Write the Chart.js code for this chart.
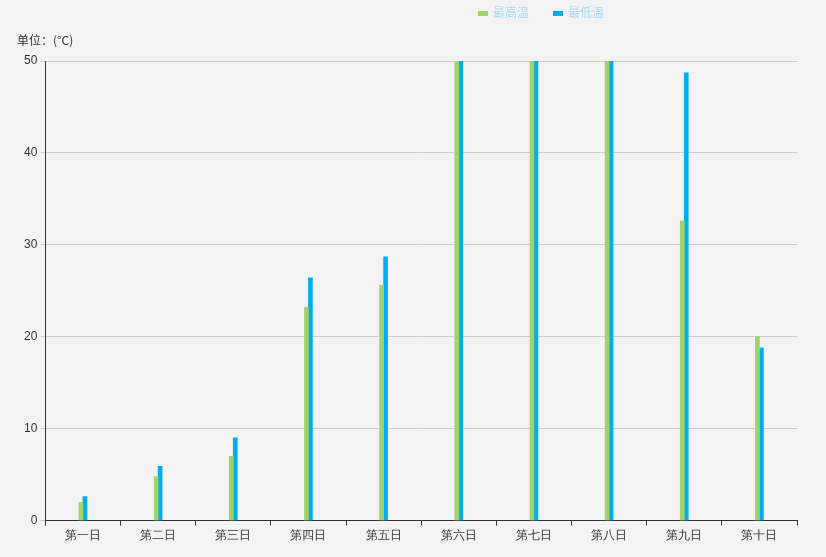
<!DOCTYPE html>
<html><head><meta charset="utf-8">
<script src="https://cdn.jsdelivr.net/npm/chart.js@4/dist/chart.umd.min.js"></script>
<style>
html,body{margin:0;padding:0;background:#f3f3f3;font-family:"Microsoft YaHei","Noto Sans CJK SC",sans-serif;}
#wrap{position:relative;width:826px;height:557px;}
#c{position:absolute;left:0;top:0;}
.lg{position:absolute;top:3px;font-size:12px;color:#a6d8f5;}
.lg span{display:inline-block;width:10px;height:5px;margin-right:5px;vertical-align:middle;}
#unit{position:absolute;left:17px;top:31px;font-size:12px;color:#333;}
</style></head><body>
<div id="wrap">
<canvas id="c" width="826" height="557"></canvas>
<div class="lg" style="left:478px"><span style="background:#a0d468"></span>最高温</div>
<div class="lg" style="left:553px"><span style="background:#00aeef"></span>最低温</div>
<div id="unit">单位：(°C)</div>
</div>
<script>
const categories=["第一日","第二日","第三日","第四日","第五日","第六日","第七日","第八日","第九日","第十日"];
const highTemp=[2,4.8,7,23.2,25.6,55,55,55,32.6,20];
const lowTemp=[2.6,5.9,9,26.4,28.7,55,55,55,48.7,18.8];
new Chart(document.getElementById('c'),{
type:'bar',
data:{labels:categories,datasets:[
{label:'最高温',data:highTemp,backgroundColor:'#a0d468',barThickness:4,categoryPercentage:0.14,barPercentage:1},
{label:'最低温',data:lowTemp,backgroundColor:'#00aeef',barThickness:4,categoryPercentage:0.14,barPercentage:1}
]},
options:{responsive:false,animation:false,
layout:{padding:{top:61,right:29,left:21,bottom:11}},
plugins:{legend:{display:false},tooltip:{enabled:false}},
scales:{
x:{grid:{drawOnChartArea:false,offset:true,color:'#333',tickLength:5},border:{color:'#333'},
ticks:{color:'#333',font:{size:12}}},
y:{min:0,max:50,ticks:{stepSize:10,color:'#333',font:{size:12}},
grid:{color:'#cccccc',tickLength:5},border:{color:'#333'}}
}}
});
</script>
</body></html>
